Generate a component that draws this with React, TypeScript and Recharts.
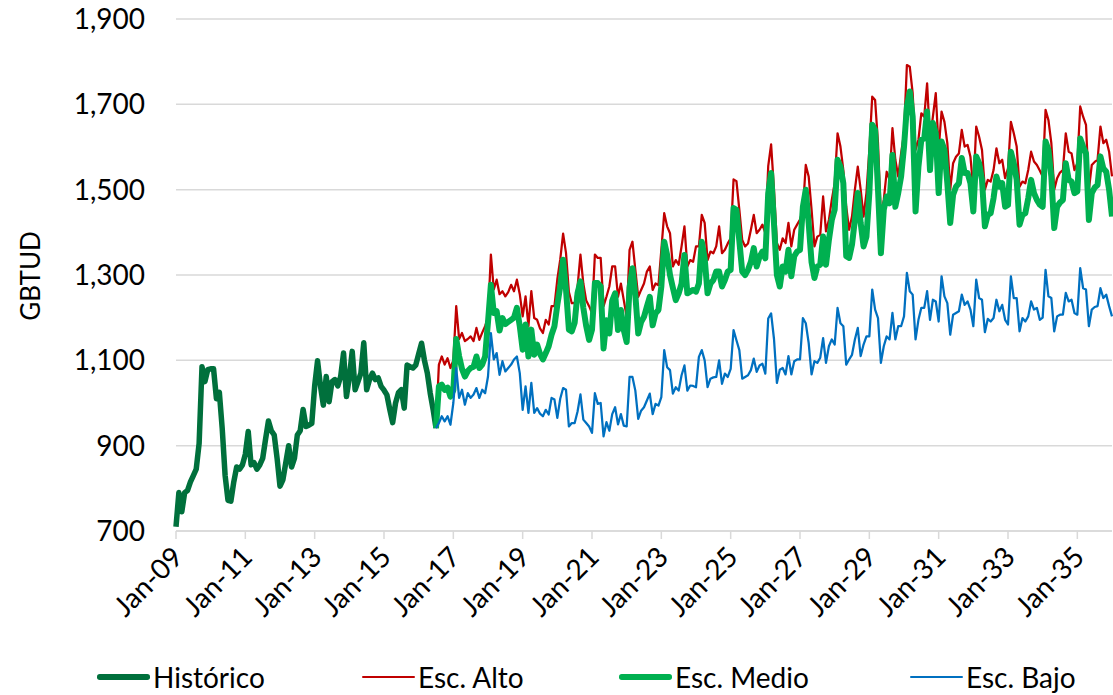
import { LineChart, Line, XAxis, YAxis, CartesianGrid, Legend } from "recharts"

// monthly values, GBTUD. Jan-09 = month 0
const historico = [
  710, 790, 745, 790, 795, 815, 830, 845, 905, 1085, 1050, 1078,
  1080, 1080, 1010, 1025, 940, 830, 772, 770, 815, 850, 845, 855,
  880, 933, 855, 860, 845, 855, 870, 915, 958, 935, 925, 870,
  805, 820, 860, 900, 850, 870, 925, 935, 985, 945, 948, 952,
  1040, 1099, 1040, 995, 1062, 1003, 1050, 1055, 1040, 1062, 1117, 1015,
  1060, 1121, 1031, 1050, 1070, 1141, 1031, 1055, 1070, 1055, 1059, 1039,
  1030, 1019, 985, 954, 1000, 1024, 1031, 988, 1089, 1085, 1082, 1089,
  1115, 1140, 1100, 1070, 1023, 985, 941,
]

// scenarios start at Jul-16 (month 90)
const escStart = 90

const escAlto = [
  941, 1090, 1109, 1090, 1105, 1082,
  1100, 1227, 1150, 1164, 1145, 1150, 1156, 1145, 1176, 1148, 1165, 1180,
  1200, 1348, 1266, 1289, 1255, 1262, 1250, 1260, 1277, 1262, 1289, 1255,
  1203, 1250, 1180, 1262, 1199, 1195, 1175, 1164, 1195, 1184, 1227, 1227,
  1290, 1336, 1397, 1352, 1260, 1234, 1234, 1273, 1348, 1280, 1240, 1227,
  1211, 1348, 1340, 1340, 1227, 1249, 1273, 1320, 1320, 1249, 1280, 1241,
  1202, 1359, 1378, 1312, 1249, 1265, 1280, 1308, 1320, 1265, 1280, 1276,
  1359, 1445, 1414, 1398, 1320, 1335, 1324, 1367, 1414, 1320, 1335, 1331,
  1367, 1367, 1441, 1422, 1335, 1355, 1351, 1367, 1414, 1351, 1359, 1374,
  1386, 1524, 1520, 1453, 1382, 1367, 1374, 1406, 1441, 1398, 1406, 1418,
  1398, 1555, 1606, 1500, 1375, 1359, 1386, 1375, 1422, 1367, 1406, 1418,
  1430, 1453, 1558, 1531, 1453, 1367, 1390, 1394, 1484, 1402, 1429, 1476,
  1515, 1632, 1601, 1546, 1460, 1406, 1437, 1500, 1554, 1500, 1437, 1492,
  1593, 1718, 1710, 1609, 1437, 1476, 1542, 1523, 1644, 1570, 1531, 1585,
  1632, 1792, 1788, 1726, 1593, 1617, 1679, 1671, 1749, 1617, 1671, 1726,
  1593, 1683, 1659, 1609, 1500, 1562, 1577, 1585, 1640, 1601, 1605, 1577,
  1500, 1648, 1624, 1593, 1500, 1523, 1519, 1546, 1597, 1562, 1570, 1527,
  1550, 1659, 1632, 1601, 1507, 1519, 1515, 1546, 1589, 1566, 1558, 1545,
  1531, 1687, 1663, 1609, 1500, 1527, 1540, 1546, 1632, 1589, 1585, 1546,
  1562, 1695, 1671, 1652, 1500, 1558, 1565, 1570, 1648, 1609, 1617, 1589,
  1531,
]

const escMedio = [
  941, 1039, 1043, 1031, 1036, 1015,
  1030, 1150, 1110, 1080, 1062, 1075, 1082, 1085, 1109, 1082, 1090, 1109,
  1190, 1277, 1211, 1215, 1170, 1199, 1185, 1190, 1195, 1200, 1223, 1180,
  1125, 1184, 1109, 1172, 1113, 1137, 1115, 1102, 1117, 1133, 1160, 1180,
  1230, 1273, 1336, 1266, 1172, 1168, 1188, 1258, 1285, 1223, 1180, 1148,
  1172, 1281, 1281, 1273, 1128, 1194, 1163, 1240, 1257, 1171, 1218, 1171,
  1143, 1270, 1316, 1253, 1163, 1190, 1202, 1226, 1249, 1182, 1210, 1218,
  1273, 1378, 1347, 1300, 1270, 1241, 1257, 1280, 1347, 1257, 1261, 1265,
  1261, 1280, 1378, 1339, 1257, 1280, 1288, 1308, 1308, 1273, 1288, 1308,
  1312, 1457, 1453, 1380, 1308, 1300, 1312, 1331, 1363, 1320, 1343, 1355,
  1339, 1492, 1539, 1420, 1300, 1273, 1320, 1308, 1359, 1297, 1344, 1355,
  1359, 1460, 1500, 1422, 1330, 1293, 1320, 1324, 1390, 1324, 1382, 1429,
  1453, 1570, 1554, 1515, 1344, 1340, 1371, 1429, 1492, 1422, 1367, 1390,
  1492, 1652, 1640, 1500, 1351, 1453, 1484, 1468, 1581, 1460, 1492, 1531,
  1600, 1695, 1730, 1671, 1449, 1554, 1617, 1620, 1683, 1546, 1656, 1632,
  1492, 1613, 1593, 1515, 1422, 1488, 1507, 1515, 1574, 1539, 1539, 1515,
  1449, 1578, 1562, 1523, 1414, 1441, 1445, 1480, 1531, 1507, 1515, 1460,
  1464, 1589, 1562, 1523, 1418, 1441, 1445, 1480, 1523, 1492, 1476, 1465,
  1460, 1613, 1593, 1531, 1410, 1460, 1470, 1476, 1562, 1523, 1519, 1492,
  1496, 1620, 1601, 1585, 1429, 1492, 1505, 1511, 1578, 1550, 1542, 1500,
  1437,
]

const escBajo = [
  941, 953, 969, 957, 969, 949,
  1000, 1082, 1012, 1031, 996, 1023, 1012, 1020, 1035, 1012, 1031, 1023,
  1062, 1164, 1102, 1117, 1066, 1098, 1074, 1082, 1090, 1102, 1109, 1070,
  984, 1039, 977, 1047, 977, 988, 975, 969, 984, 973, 1012, 1008,
  965, 1010, 1035, 1031, 945, 953, 953, 980, 1020, 961, 953, 945,
  930, 1023, 998, 1000, 922, 955, 935, 974, 990, 950, 974, 947,
  945, 1061, 1061, 1029, 963, 982, 990, 1006, 1022, 974, 998, 994,
  1014, 1124, 1084, 1077, 1022, 1037, 1029, 1065, 1088, 1029, 1041, 1040,
  1037, 1108, 1124, 1100, 1037, 1057, 1060, 1061, 1100, 1045, 1069, 1061,
  1080, 1171, 1147, 1124, 1057, 1061, 1065, 1077, 1104, 1073, 1088, 1092,
  1069, 1198, 1210, 1150, 1047, 1078, 1082, 1067, 1110, 1067, 1098, 1102,
  1102, 1199, 1187, 1141, 1067, 1098, 1094, 1106, 1152, 1094, 1133, 1149,
  1137, 1223, 1187, 1180, 1090, 1102, 1113, 1149, 1176, 1110, 1137, 1156,
  1156, 1266, 1219, 1199, 1094, 1133, 1156, 1149, 1211, 1149, 1180, 1180,
  1203, 1305, 1262, 1254, 1149, 1195, 1223, 1223, 1262, 1195, 1242, 1238,
  1191, 1297, 1250, 1234, 1160, 1207, 1211, 1215, 1254, 1230, 1238, 1219,
  1180, 1289, 1246, 1242, 1166, 1197, 1191, 1199, 1242, 1215, 1230, 1195,
  1184, 1297, 1246, 1246, 1168, 1199, 1191, 1203, 1238, 1219, 1223, 1195,
  1200, 1312, 1250, 1246, 1168, 1203, 1207, 1207, 1258, 1238, 1242, 1211,
  1207, 1316, 1269, 1266, 1180, 1219, 1225, 1227, 1269, 1246, 1254, 1227,
  1203,
]

const xTicks = [0, 24, 48, 72, 96, 120, 144, 168, 192, 216, 240, 264, 288, 312]
const xTickLabels = [
  "Jan-09", "Jan-11", "Jan-13", "Jan-15", "Jan-17", "Jan-19", "Jan-21",
  "Jan-23", "Jan-25", "Jan-27", "Jan-29", "Jan-31", "Jan-33", "Jan-35",
]
const yTicks = [700, 900, 1100, 1300, 1500, 1700, 1900]

const FONT = "Lato, 'Open Sans', sans-serif"
const GRID = "#D9D9D9"

const lastMonth = escStart + escAlto.length - 1
const data = Array.from({ length: lastMonth + 1 }, (_, m) => {
  const k = m - escStart
  return {
    m,
    historico: m < historico.length ? historico[m] : null,
    alto: k >= 0 ? escAlto[k] : null,
    medio: k >= 0 ? escMedio[k] : null,
    bajo: k >= 0 ? escBajo[k] : null,
  }
})

const legendItems = [
  { key: "historico", label: "Histórico", color: "#00703C", thick: 5.5, left: 97 },
  { key: "alto", label: "Esc. Alto", color: "#C00000", thick: 2.5, left: 362 },
  { key: "medio", label: "Esc. Medio", color: "#00B050", thick: 5.5, left: 619 },
  { key: "bajo", label: "Esc. Bajo", color: "#0070C0", thick: 2.5, left: 910 },
]

function LegendContent() {
  return (
    <div style={{ position: "relative", height: 38, width: 1112, fontFamily: FONT, fontSize: 28 }}>
      {legendItems.map((it) => (
        <div
          key={it.key}
          style={{ position: "absolute", left: it.left, top: 3, height: 34, display: "flex", alignItems: "center" }}
        >
          <span style={{ display: "inline-block", width: 53, height: it.thick, background: it.color, borderRadius: it.thick / 2 }} />
          <span style={{ marginLeft: 3, color: "#000", lineHeight: "34px", whiteSpace: "nowrap" }}>{it.label}</span>
        </div>
      ))}
    </div>
  )
}

function XTick({ x, y, payload }: any) {
  const label = xTickLabels[xTicks.indexOf(payload.value)]
  const ty = y + 8
  return (
    <text
      x={x + 1}
      y={ty}
      transform={`rotate(-45 ${x + 1} ${ty})`}
      textAnchor="end"
      dominantBaseline="central"
      fill="#000"
      fontSize={28}
      fontFamily={FONT}
    >
      {label}
    </text>
  )
}

function YTitle() {
  return (
    <text
      x={30}
      y={276}
      transform="rotate(-90 30 276)"
      textAnchor="middle"
      dominantBaseline="central"
      fill="#000"
      fontSize={26}
      fontFamily={FONT}
    >
      GBTUD
    </text>
  )
}

export default function App() {
  return (
    <div style={{ width: 1113, height: 695, background: "#fff" }}>
      <style>{`body{margin:0}`}</style>
      <LineChart width={1113} height={695} data={data} margin={{ top: 19, right: 1, bottom: 0, left: 0 }}>
        <CartesianGrid vertical={false} stroke={GRID} strokeWidth={1.5} />
        <XAxis
          dataKey="m"
          type="number"
          domain={[0, lastMonth]}
          ticks={xTicks}
          interval={0}
          height={126}
          axisLine={{ stroke: GRID, strokeWidth: 1.5 }}
          tickLine={{ stroke: GRID, strokeWidth: 1.5 }}
          tickSize={8}
          tickMargin={4}
          tick={<XTick />}
        />
        <YAxis
          type="number"
          domain={[700, 1900]}
          ticks={yTicks}
          interval={0}
          width={176}
          axisLine={false}
          tickLine={false}
          tickSize={0}
          tickMargin={31}
          tickFormatter={(v: number) => v.toLocaleString("en-US")}
          tick={{ fill: "#000", fontSize: 28, fontFamily: FONT }}
          label={<YTitle />}
        />
        <Legend verticalAlign="bottom" content={<LegendContent />} />
        <Line dataKey="historico" stroke="#00703C" strokeWidth={5.5} dot={false} isAnimationActive={false} strokeLinejoin="round" />
        <Line dataKey="alto" stroke="#C00000" strokeWidth={2.25} dot={false} isAnimationActive={false} strokeLinejoin="round" />
        <Line dataKey="medio" stroke="#00B050" strokeWidth={6} dot={false} isAnimationActive={false} strokeLinejoin="round" />
        <Line dataKey="bajo" stroke="#0070C0" strokeWidth={2.25} dot={false} isAnimationActive={false} strokeLinejoin="round" />
      </LineChart>
    </div>
  )
}
